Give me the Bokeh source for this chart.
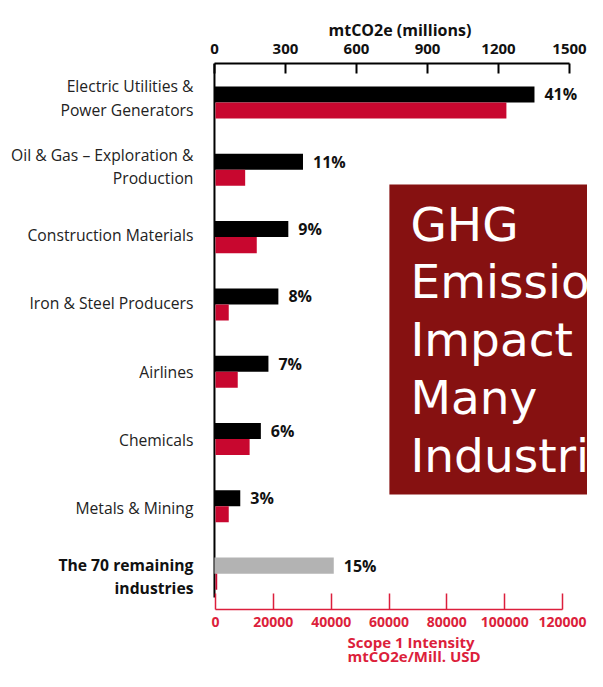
from bokeh.plotting import figure
from bokeh.models import (Range1d, LinearAxis, FixedTicker, ColumnDataSource,
                          LabelSet, Label, BoxAnnotation, BasicTickFormatter, Title)
from bokeh.transform import dodge
from bokeh.embed import file_html
from bokeh.resources import INLINE
from bokeh.core.properties import value

# ---------------- data ----------------
categories = ["Electric Utilities &\nPower Generators",
              "Oil & Gas \u2013 Exploration &\nProduction",
              "Construction Materials",
              "Iron & Steel Producers",
              "Airlines",
              "Chemicals",
              "Metals & Mining",
              "The 70 remaining\nindustries"]
emissions = [1352, 374, 312, 270, 228, 196, 109, 504]          # mtCO2e (millions)
shares = ["41%", "11%", "9%", "8%", "7%", "6%", "3%", "15%"]
intensity = [100600, 10260, 14270, 4580, 7690, 11800, 4580, 600]  # mtCO2e / Mill. USD
top_ticks = [0, 300, 600, 900, 1200, 1500]
bottom_ticks = [0, 20000, 40000, 60000, 80000, 100000, 120000]
top_title = "mtCO2e (millions)"
bottom_title = "Scope 1 Intensity\nmtCO2e/Mill. USD"
box_text = "GHG\nEmissions\nImpact\nMany\nIndustries"

BLACK = "#000000"
GRAY = "#b3b3b3"
RED = "#c8072f"
AXRED = "#dc1f3c"
BOX = "#861111"

n = len(categories)
pos = list(range(n))
colors = [BLACK] * (n - 1) + [GRAY]

src = ColumnDataSource(dict(pos=pos, emissions=emissions, intensity=intensity,
                            share=shares, color=colors))

# split category names into single lines, right-aligned and stacked
LINE = 0.342          # line spacing in category units
LSTEP, LSHIFT = 1.016, -0.067
norm = dict(y=[], label=[])
bold = dict(y=[], label=[])
for i, name in enumerate(categories):
    lines = name.split("\n")
    m = len(lines)
    tgt = bold if i == n - 1 else norm
    for k, line in enumerate(lines):
        tgt["y"].append(pos[i] * LSTEP + LSHIFT + (k - (m - 1) / 2) * LINE)
        tgt["label"].append(line)
lab_norm = ColumnDataSource(norm)
lab_bold = ColumnDataSource(bold)

# frame covers the whole width; value 0 sits at x = 214 px
p = figure(width=587, height=671,
           x_range=Range1d(-904, 1576), y_range=Range1d(7.533, -0.5795),
           output_backend="svg", toolbar_location=None,
           x_axis_location=None, y_axis_location=None,
           min_border_left=0, min_border_right=0,
           min_border_top=63, min_border_bottom=62)
p.extra_x_ranges = {"intensity": Range1d(-74351, 128644)}
p.grid.visible = False
p.outline_line_color = None
p.background_fill_color = "white"

# top axis
top = LinearAxis(ticker=FixedTicker(ticks=top_ticks), bounds=(0, 1500),
                 formatter=BasicTickFormatter(use_scientific=False))
top.axis_line_width = 2
top.axis_line_color = BLACK
top.major_tick_line_width = 2
top.major_tick_line_color = BLACK
top.major_tick_in = 10
top.major_tick_out = 0
top.minor_tick_line_color = None
top.major_label_text_font = "Open Sans"
top.major_label_text_font_size = "15px"
top.major_label_text_font_style = "bold"
top.major_label_text_color = "#111111"
top.major_label_standoff = 10
p.add_layout(top, "above")

# title above = top axis name
p.title.text = top_title
p.title.align = "left"
p.title.offset = 328
p.title.vertical_align = "bottom"
p.title.text_font = "Open Sans"
p.title.text_font_size = "16px"
p.title.text_font_style = "bold"
p.title.text_color = "#111111"
p.title.standoff = 0

# bottom axis
bot = LinearAxis(x_range_name="intensity", ticker=FixedTicker(ticks=bottom_ticks),
                 bounds=(0, 120000),
                 formatter=BasicTickFormatter(use_scientific=False))
bot.axis_line_width = 1.5
bot.axis_line_color = AXRED
bot.major_tick_line_width = 1.5
bot.major_tick_line_color = AXRED
bot.major_tick_in = 16
bot.major_tick_out = 0
bot.minor_tick_line_color = None
bot.major_label_text_font = "Open Sans"
bot.major_label_text_font_size = "14px"
bot.major_label_text_font_style = "bold"
bot.major_label_text_color = AXRED
bot.major_label_standoff = 7
p.add_layout(bot, "below")

p.add_layout(Title(text=bottom_title, align="left", offset=347, text_font="Open Sans",
                   text_font_size="15px", text_font_style="bold",
                   text_color=AXRED, standoff=2, vertical_align="bottom",
                   text_line_height=0.72), "below")

# left axis line at value 0
p.segment(x0=[0], y0=[-0.5795], x1=[0], y1=[7.355], line_color=BLACK, line_width=2)

# bars
p.hbar(y=dodge("pos", -0.119, range=p.y_range), left=0, right="emissions",
       height=0.238, fill_color="color", line_color=None, source=src)
p.hbar(y=dodge("pos", 0.119, range=p.y_range), left=0, right="intensity",
       height=0.238, fill_color=RED, line_color=None, source=src,
       x_range_name="intensity")

# percent labels
p.add_layout(LabelSet(x="emissions", y=dodge("pos", -0.119, range=p.y_range),
                      text="share", source=src, x_offset=10,
                      text_baseline="middle", text_align="left",
                      text_font=value("Open Sans"), text_font_size="16px",
                      text_font_style="bold", text_color="#111111"))

# category labels
p.add_layout(LabelSet(x=0, y="y", text="label", source=lab_norm,
                      x_offset=-21, text_align="right",
                      text_baseline="middle", text_font=value("Open Sans"),
                      text_font_size="15.7px", text_color="#222222"))
p.add_layout(LabelSet(x=0, y="y", text="label", source=lab_bold,
                      x_offset=-21, text_align="right",
                      text_baseline="middle", text_font=value("Open Sans"),
                      text_font_size="15.7px", text_font_style="bold",
                      text_color="#111111"))

# red box with text
p.add_layout(BoxAnnotation(left=739, top=1.218, bottom=5.825,
                           fill_color=BOX, fill_alpha=1.0, line_color=None))
p.add_layout(Label(x=828, y=1.397, text=box_text, text_color="white",
                   text_font="DejaVu Sans", text_font_size="47px",
                   text_baseline="top", text_align="left", text_line_height=1.05))

open("out.html", "w").write(file_html(p, INLINE))
